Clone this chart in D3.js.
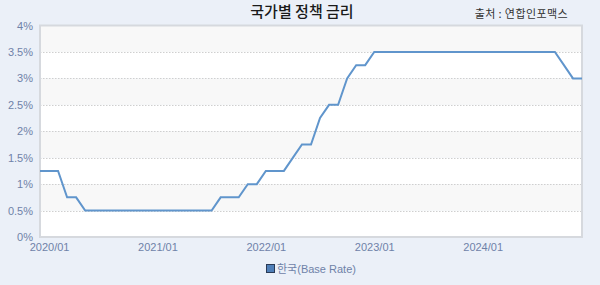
<!DOCTYPE html>
<html>
<head>
<meta charset="utf-8">
<script src="https://cdn.jsdelivr.net/npm/d3@7"></script>
<style>
  body { margin: 0; background: #ebf0f8; }
  svg { display: block; font-family: "Liberation Sans", "Noto Sans CJK KR", sans-serif; }
</style>
</head>
<body>
<svg id="chart"></svg>
<script>
// monthly categories, 2019/12 .. 2024/12
var months = [
  "2019/12",
  "2020/01","2020/02","2020/03","2020/04","2020/05","2020/06","2020/07","2020/08","2020/09","2020/10","2020/11","2020/12",
  "2021/01","2021/02","2021/03","2021/04","2021/05","2021/06","2021/07","2021/08","2021/09","2021/10","2021/11","2021/12",
  "2022/01","2022/02","2022/03","2022/04","2022/05","2022/06","2022/07","2022/08","2022/09","2022/10","2022/11","2022/12",
  "2023/01","2023/02","2023/03","2023/04","2023/05","2023/06","2023/07","2023/08","2023/09","2023/10","2023/11","2023/12",
  "2024/01","2024/02","2024/03","2024/04","2024/05","2024/06","2024/07","2024/08","2024/09","2024/10","2024/11","2024/12"
];

// 한국 base rate (%)
var baseRate = [
  1.25,
  1.25, 1.25, 0.75, 0.75, 0.5, 0.5, 0.5, 0.5, 0.5, 0.5, 0.5, 0.5,
  0.5, 0.5, 0.5, 0.5, 0.5, 0.5, 0.5, 0.75, 0.75, 0.75, 1.0, 1.0,
  1.25, 1.25, 1.25, 1.5, 1.75, 1.75, 2.25, 2.5, 2.5, 3.0, 3.25, 3.25,
  3.5, 3.5, 3.5, 3.5, 3.5, 3.5, 3.5, 3.5, 3.5, 3.5, 3.5, 3.5,
  3.5, 3.5, 3.5, 3.5, 3.5, 3.5, 3.5, 3.5, 3.5, 3.25, 3.0, 3.0
];

var xTickLabels = ["2020/01", "2021/01", "2022/01", "2023/01", "2024/01"];
var yTicks = [0, 0.5, 1, 1.5, 2, 2.5, 3, 3.5, 4];

var width = 600, height = 285;
var plotLeft = 40, plotRight = 582, plotTop = 25.5, plotBottom = 237;
var labelColor = "#6f82a8";
var lineColor = "#6095cc";

var svg = d3.select("svg#chart")
            .attr("width", width)
            .attr("height", height);

var x = d3.scalePoint()
          .domain(months)
          .range([plotLeft, plotRight]);

var y = d3.scaleLinear()
          .domain([0, 4])
          .range([plotBottom, plotTop]);

// alternating bands
for (let i = 0; i < yTicks.length - 1; i++) {
  svg.append("rect")
     .attr("x", plotLeft)
     .attr("y", y(yTicks[i + 1]))
     .attr("width", plotRight - plotLeft)
     .attr("height", y(yTicks[i]) - y(yTicks[i + 1]))
     .attr("fill", i % 2 == 1 ? "#f8f8f8" : "#ffffff");
}

// dotted grid lines
svg.append("g")
   .selectAll("line")
   .data(yTicks.slice(1, -1))
   .join("line")
   .attr("x1", plotLeft)
   .attr("x2", plotRight)
   .attr("y1", d => Math.round(y(d)) + 0.5)
   .attr("y2", d => Math.round(y(d)) + 0.5)
   .attr("stroke", "#cfcfcf")
   .attr("stroke-dasharray", "1.5,1.5");

// frame
svg.append("rect")
   .attr("x", plotLeft)
   .attr("y", plotTop)
   .attr("width", plotRight - plotLeft)
   .attr("height", plotBottom - plotTop)
   .attr("fill", "none")
   .attr("stroke", "#d6d9de")
   .attr("stroke-width", 2);

// y axis
var yAxis = d3.axisLeft(y)
              .tickValues(yTicks)
              .tickSize(0)
              .tickPadding(7)
              .tickFormat(d => d + "%");
var gy = svg.append("g")
            .attr("transform", "translate(" + plotLeft + ",0)")
            .call(yAxis);
gy.select(".domain").remove();
gy.selectAll("text")
  .attr("fill", labelColor)
  .style("font-size", "11px");

// x axis
var xAxis = d3.axisBottom(x)
              .tickValues(xTickLabels)
              .tickSize(0)
              .tickPadding(6);
var gx = svg.append("g")
            .attr("transform", "translate(0," + plotBottom + ")")
            .call(xAxis);
gx.select(".domain").remove();
gx.selectAll("text")
  .attr("fill", labelColor)
  .style("font-size", "11px");

// rate line
var line = d3.line()
             .x((d, i) => x(months[i]))
             .y(d => y(d));

svg.append("path")
   .datum(baseRate)
   .attr("d", line)
   .attr("fill", "none")
   .attr("stroke", lineColor)
   .attr("stroke-width", 2);

// title and source
svg.append("text")
   .text("국가별 정책 금리")
   .attr("x", 302)
   .attr("y", 17)
   .attr("text-anchor", "middle")
   .attr("fill", "#1a1a1a")
   .style("font-family", "'Noto Sans CJK KR'")
   .style("font-size", "15px")
   .style("font-weight", "500");

svg.append("text")
   .text("출처 : 연합인포맥스")
   .attr("x", 568)
   .attr("y", 18)
   .attr("text-anchor", "end")
   .attr("fill", "#333")
   .style("font-family", "'Noto Sans CJK KR'")
   .style("font-size", "11px")
   .style("letter-spacing", "0.4px");

// legend
svg.append("rect")
   .attr("x", 266.5)
   .attr("y", 264.5)
   .attr("width", 8)
   .attr("height", 8)
   .attr("fill", "#4f7fb8")
   .attr("stroke", "#2a3a55");

svg.append("text")
   .text("한국(Base Rate)")
   .attr("x", 277)
   .attr("y", 273)
   .attr("fill", labelColor)
   .style("font-size", "11px");
</script>
</body>
</html>
